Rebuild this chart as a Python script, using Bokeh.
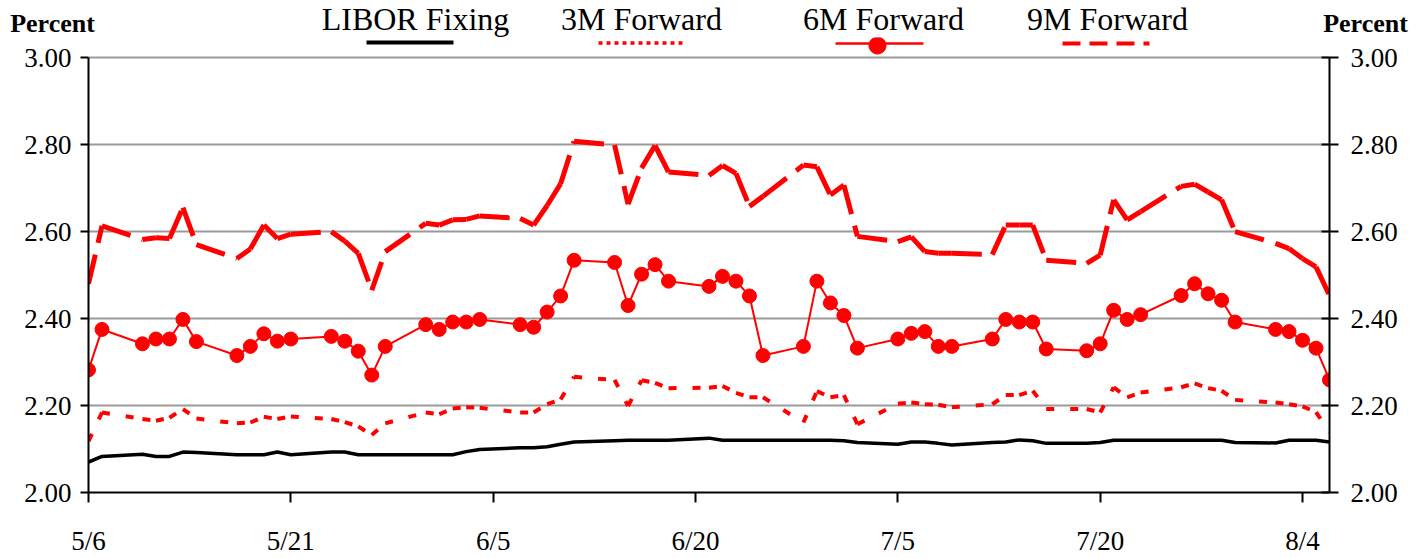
import numpy as np
import pandas as pd
from bokeh.plotting import figure
from bokeh.layouts import column
from bokeh.models import (Range1d, LinearAxis, FixedTicker, NumeralTickFormatter,
                          ColumnDataSource, Arrow, PolyAnnotation)
from bokeh.core.properties import value
from bokeh.embed import file_html
from bokeh.resources import INLINE

# ---------------- data ----------------
START = "2004-05-06"
END = "2004-08-06"
TICK_LABELS = ["5/6", "5/21", "6/5", "6/20", "7/5", "7/20", "8/4"]
Y_TICKS = [2.0, 2.2, 2.4, 2.6, 2.8, 3.0]
SERIES_NAMES = ["LIBOR Fixing", "3M Forward", "6M Forward", "9M Forward"]
AXIS_TITLE = "Percent"

libor = [2.070, 2.083, 2.088, 2.083, 2.083, 2.093, 2.092,
         2.087, 2.087, 2.087, 2.093, 2.087,
         2.093, 2.093, 2.087, 2.087, 2.087,
         2.087, 2.087, 2.087, 2.094, 2.099,
         2.103, 2.103, 2.105, 2.111, 2.116,
         2.119, 2.120, 2.120, 2.120, 2.120,
         2.125, 2.120, 2.120, 2.120, 2.120,
         2.120, 2.120, 2.120, 2.119, 2.115,
         2.111, 2.116, 2.116, 2.113, 2.109,
         2.115, 2.116, 2.121, 2.119, 2.113,
         2.113, 2.115, 2.120, 2.120, 2.120,
         2.120, 2.120, 2.120, 2.120, 2.115,
         2.114, 2.120, 2.120, 2.120, 2.116]

fwd_3m = [2.118, 2.184, 2.169, 2.165, 2.172, 2.192, 2.170,
          2.159, 2.161, 2.174, 2.169, 2.175,
          2.169, 2.162, 2.152, 2.132, 2.159,
          2.184, 2.180, 2.193, 2.196, 2.195,
          2.184, 2.184, 2.203, 2.214, 2.266,
          2.259, 2.199, 2.258, 2.252, 2.240,
          2.241, 2.245, 2.229, 2.219, 2.219,
          2.161, 2.233, 2.219, 2.224, 2.157,
          2.204, 2.207, 2.203, 2.202, 2.196,
          2.203, 2.224, 2.224, 2.234, 2.192,
          2.192, 2.184, 2.242, 2.219, 2.230,
          2.242, 2.251, 2.240, 2.234, 2.213,
          2.207, 2.203, 2.198, 2.185, 2.138]

fwd_6m = [2.282, 2.375, 2.342, 2.353, 2.353, 2.398, 2.347,
          2.315, 2.336, 2.365, 2.348, 2.353,
          2.359, 2.348, 2.325, 2.270, 2.336,
          2.386, 2.375, 2.392, 2.392, 2.398,
          2.386, 2.380, 2.415, 2.452, 2.534,
          2.529, 2.430, 2.502, 2.524, 2.486,
          2.474, 2.497, 2.486, 2.452, 2.315,
          2.336, 2.486, 2.436, 2.407, 2.332,
          2.353, 2.366, 2.370, 2.336, 2.336,
          2.353, 2.398, 2.392, 2.392, 2.330,
          2.326, 2.342, 2.419, 2.398, 2.409,
          2.453, 2.480, 2.457, 2.442, 2.392,
          2.375, 2.370, 2.350, 2.332, 2.259]

fwd_9m = [2.480, 2.613, 2.582, 2.586, 2.584, 2.655, 2.570,
          2.538, 2.560, 2.615, 2.584, 2.594,
          2.600, 2.578, 2.550, 2.465, 2.554,
          2.619, 2.615, 2.627, 2.628, 2.636,
          2.630, 2.615, 2.660, 2.710, 2.808,
          2.799, 2.663, 2.746, 2.798, 2.737,
          2.729, 2.752, 2.734, 2.658, 2.681,
          2.753, 2.749, 2.684, 2.707, 2.589,
          2.577, 2.588, 2.554, 2.550, 2.550,
          2.547, 2.615, 2.615, 2.615, 2.534,
          2.527, 2.546, 2.673, 2.627, 2.646,
          2.704, 2.709, 2.691, 2.673, 2.600,
          2.573, 2.561, 2.538, 2.519, 2.453]

# ---------------- derived ----------------
start = pd.Timestamp(START)
dates = pd.bdate_range(START, END)
days = np.array([(d - start).days for d in dates], dtype=float)
n_days = (pd.Timestamp(END) - start).days


def tick_day(lbl):
    m, d = lbl.split("/")
    return (pd.Timestamp(2004, int(m), int(d)) - start).days


tick_days = [tick_day(t) for t in TICK_LABELS]

RED = "#FF0000"
FONT = "Liberation Serif"

# ---------------- layout geometry (pixels) ----------------
W = 1427
HEADER_H = 37
MAIN_H = 558 - HEADER_H
BORDER_L, BORDER_R, BORDER_B = 88, 98, 65
FRAME_H = MAIN_H - BORDER_B                 # frame reaches the top of the main figure
PX_PER_UNIT = 435.8                         # vertical scale of the reference
y_top = Y_TICKS[0] + FRAME_H / PX_PER_UNIT  # headroom above 3.00 for the legend keys

# ---------------- main chart ----------------
p = figure(width=W, height=MAIN_H, output_backend="svg", toolbar_location=None,
           x_range=Range1d(0, n_days), y_range=Range1d(Y_TICKS[0], y_top),
           min_border_left=BORDER_L, min_border_right=BORDER_R,
           min_border_top=0, min_border_bottom=BORDER_B)
p.outline_line_color = None
p.background_fill_color = "white"
p.border_fill_color = "white"
p.xgrid.visible = False
p.ygrid.grid_line_color = "#9a9a9a"
p.ygrid.grid_line_width = 2
p.ygrid.ticker = FixedTicker(ticks=Y_TICKS)


def style_axis(ax, t_in, t_out, standoff):
    ax.axis_line_color = "black"
    ax.axis_line_width = 2
    ax.major_tick_line_color = "black"
    ax.major_tick_line_width = 2
    ax.major_tick_in = t_in
    ax.major_tick_out = t_out
    ax.minor_tick_line_color = None
    ax.major_label_text_font = FONT
    ax.major_label_text_font_size = "27px"
    ax.major_label_text_color = "black"
    ax.major_label_standoff = standoff


xa = p.xaxis[0]
xa.ticker = FixedTicker(ticks=tick_days)
xa.major_label_overrides = {td: lbl for td, lbl in zip(tick_days, TICK_LABELS)}
style_axis(xa, 0, 10, 23)

ya = p.yaxis[0]
ya.ticker = FixedTicker(ticks=Y_TICKS)
ya.formatter = NumeralTickFormatter(format="0.00")
ya.bounds = (Y_TICKS[0], Y_TICKS[-1])
style_axis(ya, 0, 8, 9)

ra = LinearAxis(ticker=FixedTicker(ticks=Y_TICKS), formatter=NumeralTickFormatter(format="0.00"),
                bounds=(Y_TICKS[0], Y_TICKS[-1]))
style_axis(ra, 8, 9, 12)
p.add_layout(ra, "right")


def seg_source(vals):
    v = np.asarray(vals, dtype=float)
    return ColumnDataSource(dict(x0=days[:-1], y0=v[:-1], x1=days[1:], y1=v[1:]))


# 9M forward: long dashes (pattern restarts at every data point)
p.segment("x0", "y0", "x1", "y1", source=seg_source(fwd_9m),
          line_color=RED, line_width=5, line_dash="30 12")
# 3M forward: short dashes
p.segment("x0", "y0", "x1", "y1", source=seg_source(fwd_3m),
          line_color=RED, line_width=4, line_dash="8 16")
# LIBOR fixing
p.line(days, libor, line_color="black", line_width=3.5)
# 6M forward
p.line(days, fwd_6m, line_color=RED, line_width=2)
p.scatter(days, fwd_6m, size=14, marker="circle", fill_color=RED, line_color=RED)

# ---------------- legend keys (screen units relative to the frame's bottom-left) ----------------
FRAME_BOTTOM_PAGE = HEADER_H + FRAME_H


def sx(x):
    return x - BORDER_L


def sy(y):
    return FRAME_BOTTOM_PAGE - y


def key_line(x0, x1, y, color, width, dash="solid"):
    p.add_layout(Arrow(start=None, end=None, x_start=sx(x0), y_start=sy(y), x_end=sx(x1), y_end=sy(y),
                       start_units="screen", end_units="screen",
                       line_color=color, line_width=width, line_dash=dash))


key_line(366, 453, 43, "black", 4)
key_line(598, 683, 43.5, RED, 3.5, "4 4")
key_line(835, 923, 44, RED, 2.5)
key_line(1062, 1149, 44, RED, 4, "18 9")
theta = np.linspace(0, 2 * np.pi, 48, endpoint=False)
mcx, mcy, mr = 877, 46, 8.5
p.add_layout(PolyAnnotation(xs=list(sx(mcx) + mr * np.cos(theta)), ys=list(sy(mcy) + mr * np.sin(theta)),
                            xs_units="screen", ys_units="screen",
                            fill_color=RED, fill_alpha=1.0, line_color=RED, line_alpha=1.0, line_width=1))

# ---------------- header (legend names and axis titles) ----------------
h = figure(width=W, height=HEADER_H, output_backend="svg", toolbar_location=None,
           x_range=Range1d(0, W), y_range=Range1d(HEADER_H, 0),
           x_axis_location=None, y_axis_location=None, frame_align=False,
           min_border_left=0, min_border_right=0, min_border_top=0, min_border_bottom=0)
h.outline_line_color = None
h.xgrid.visible = False
h.ygrid.visible = False
h.background_fill_color = "white"
h.border_fill_color = "white"

name_x = [415, 641, 883, 1107]
h.text(x=name_x, y=[18.7] * len(name_x), text=SERIES_NAMES,
       text_font=value(FONT), text_font_size="32px", text_align="center",
       text_baseline="middle", text_color="black")
h.text(x=[52, 1365], y=[22.7, 22.7], text=[AXIS_TITLE, AXIS_TITLE],
       text_font=value(FONT), text_font_size="26px", text_font_style="bold",
       text_align="center", text_baseline="middle", text_color="black")

layout = column(h, p, spacing=0)
open("out.html", "w").write(file_html(layout, INLINE))
